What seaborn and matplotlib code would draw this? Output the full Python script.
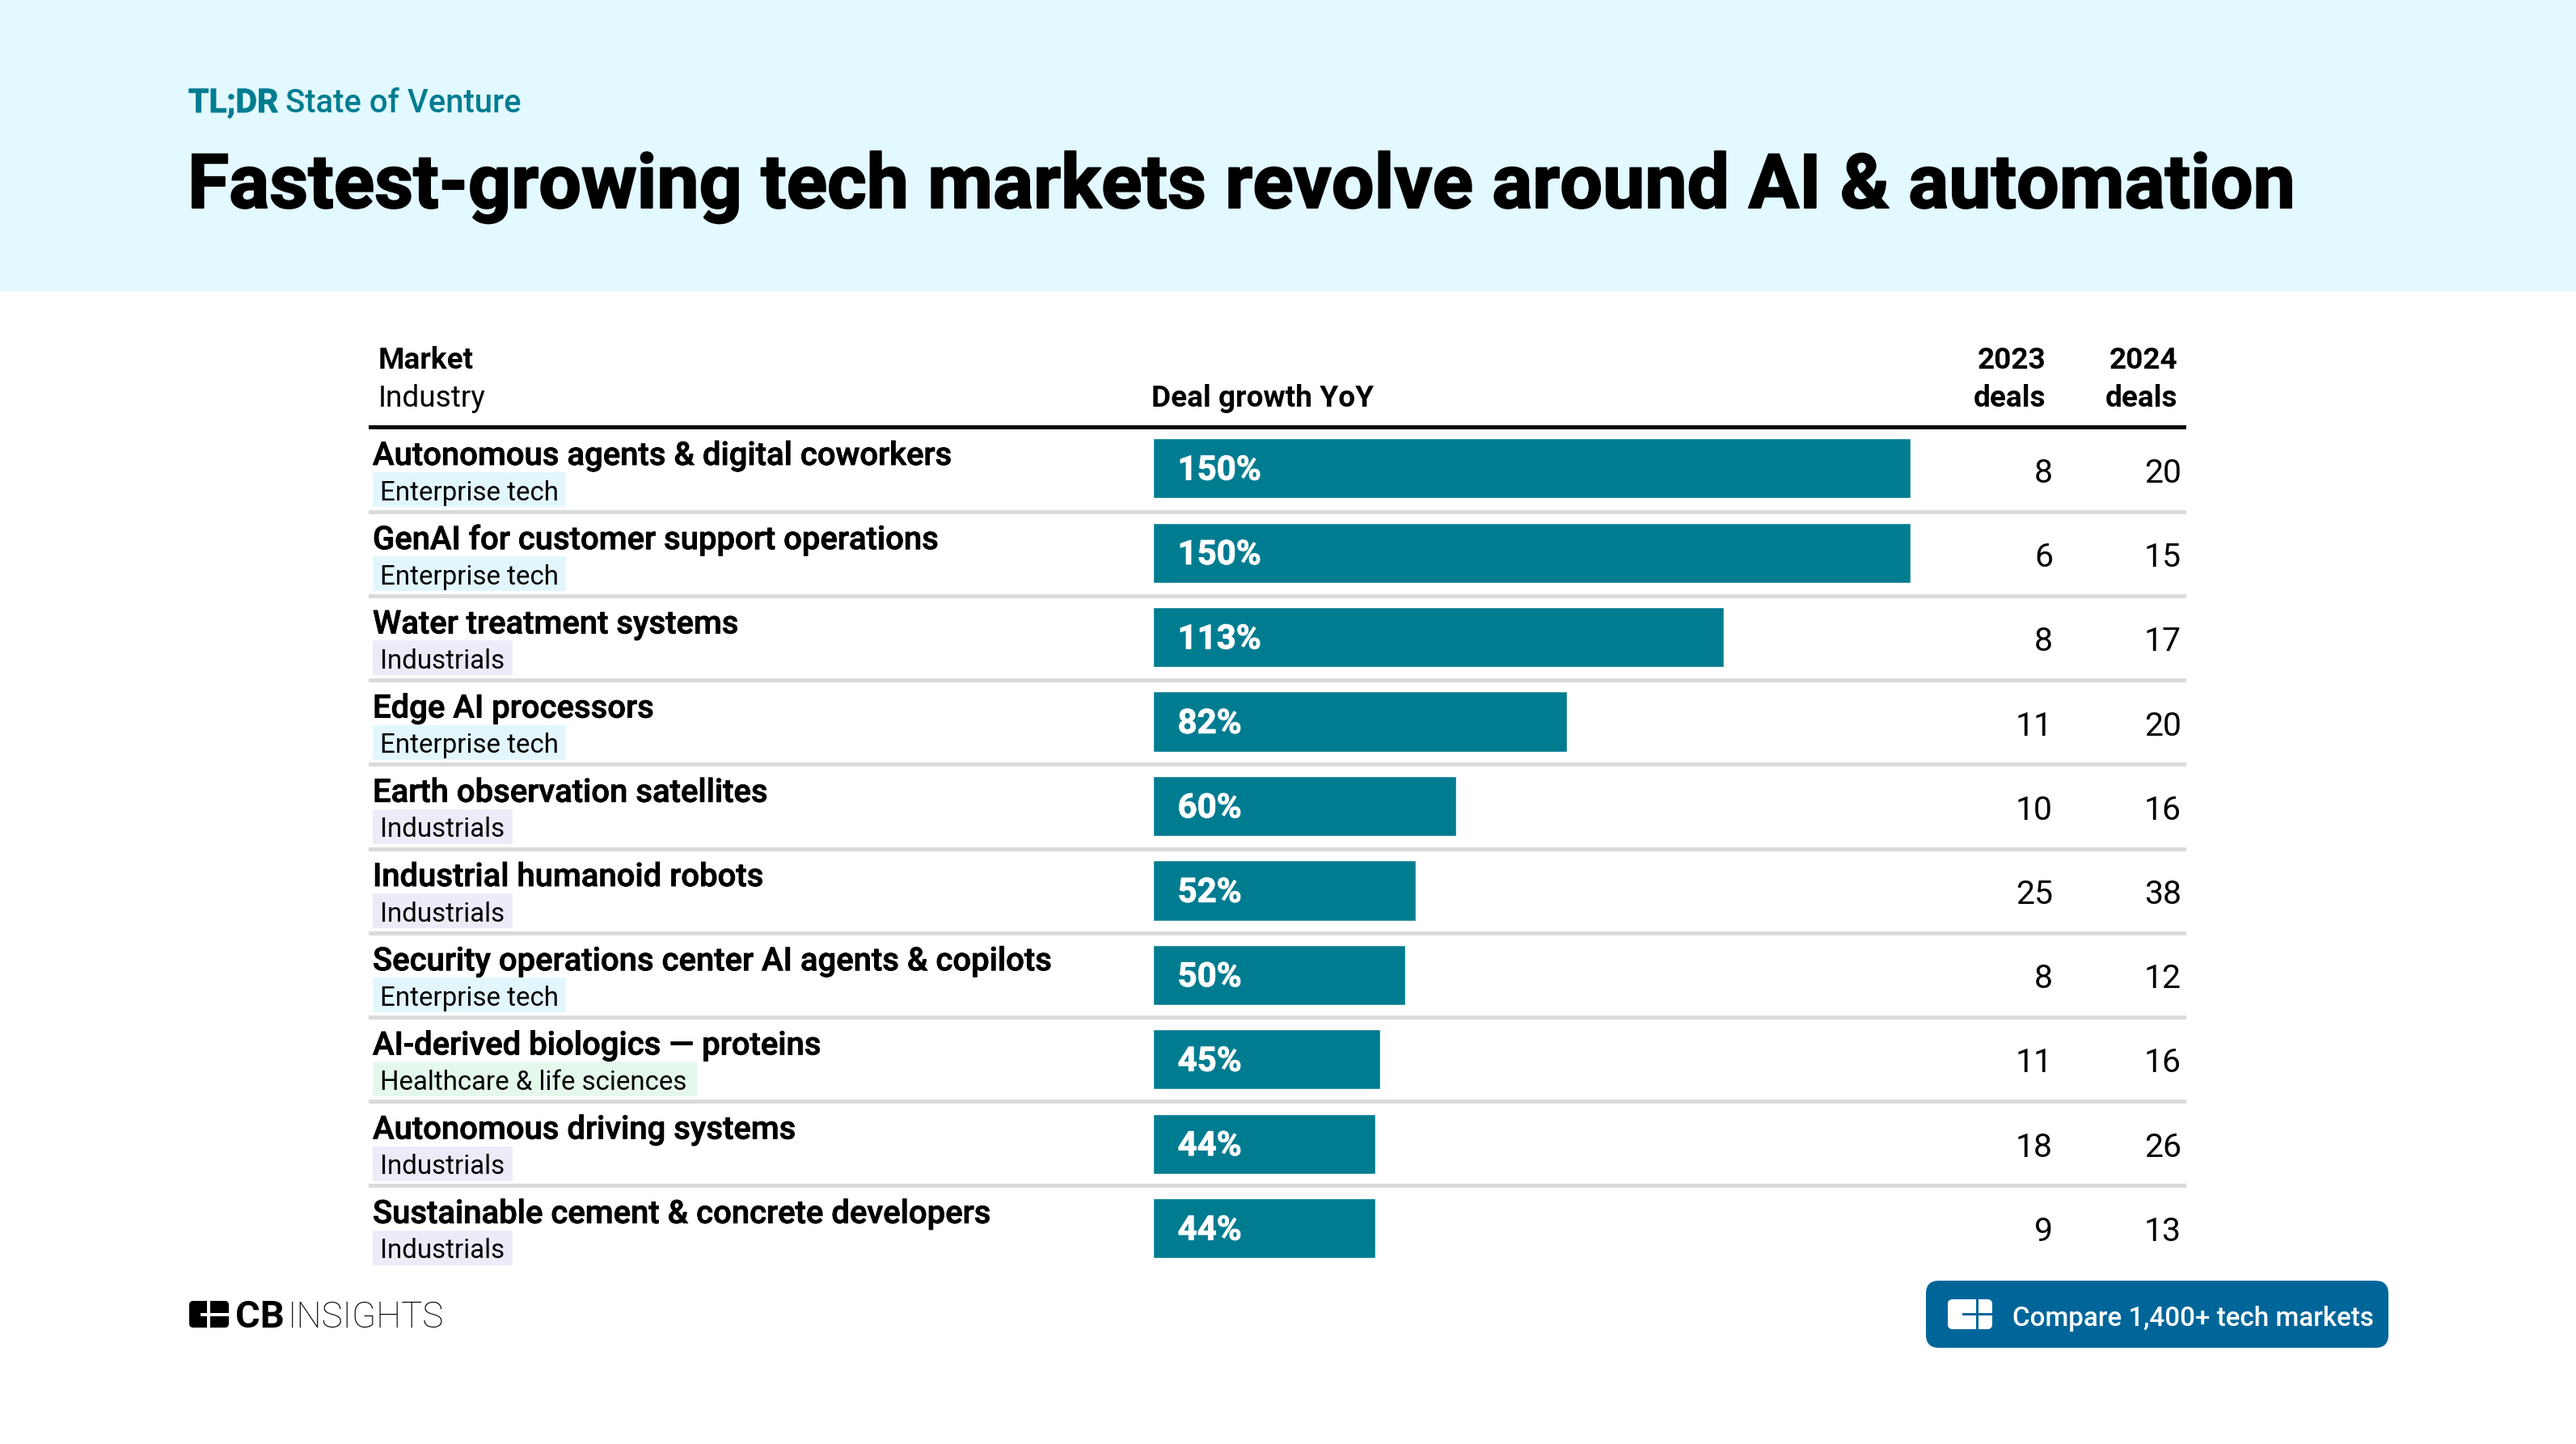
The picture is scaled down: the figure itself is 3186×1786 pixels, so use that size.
import seaborn as sns
import matplotlib
matplotlib.use("Agg")
import matplotlib.pyplot as plt
from matplotlib.patches import Rectangle, FancyBboxPatch
from matplotlib import patheffects
import pandas as pd

# data
markets = ["Autonomous agents & digital coworkers", "GenAI for customer support operations",
           "Water treatment systems", "Edge AI processors", "Earth observation satellites",
           "Industrial humanoid robots", "Security operations center AI agents & copilots",
           "AI-derived biologics — proteins", "Autonomous driving systems",
           "Sustainable cement & concrete developers"]
industries = ["Enterprise tech", "Enterprise tech", "Industrials", "Enterprise tech", "Industrials",
              "Industrials", "Enterprise tech", "Healthcare & life sciences", "Industrials", "Industrials"]
growth = [150, 150, 113, 82, 60, 52, 50, 45, 44, 44]
deals_2023 = [8, 6, 8, 11, 10, 25, 8, 11, 18, 9]
deals_2024 = [20, 15, 17, 20, 16, 38, 12, 16, 26, 13]

tag_colors = {"Enterprise tech": "#E2F7FD", "Industrials": "#ECECF9", "Healthcare & life sciences": "#E4F9EC"}
tag_widths = {"Enterprise tech": 239, "Industrials": 173, "Healthcare & life sciences": 401}

W, H = 3186, 1786
TEAL = "#007C91"
BLUE = "#00669A"
ROW = 104.2
TOP = 527

sns.set_theme(style="white")
plt.rcParams["font.family"] = ["Roboto", "DejaVu Sans"]

fig = plt.figure(figsize=(W / 100, H / 100), dpi=100, facecolor="white")

# full figure layer in pixel coordinates for the table furniture
bg = fig.add_axes([0, 0, 1, 1])
bg.set_xlim(0, W)
bg.set_ylim(H, 0)
bg.axis("off")


def label(x, y, s, size, weight="normal", color="black", ha="left", heavy=0):
    t = bg.text(x, y, s, fontsize=size * 0.72, fontweight=weight, color=color, ha=ha, va="baseline")
    if heavy:
        t.set_path_effects([patheffects.withStroke(linewidth=heavy, foreground=color)])
    return t


# header band
bg.add_patch(Rectangle((0, 0), W, 360, color="#E2F9FF", lw=0))
label(233, 139, "TL;DR", 41, "bold", TEAL, heavy=0.6)
label(353, 139, "State of Venture", 40, "medium", TEAL)
label(232, 257, "Fastest-growing tech markets revolve around AI & automation", 93.3, "bold", heavy=1.4)

# column headers
label(468, 456, "Market", 37, "bold")
label(468, 503, "Industry", 37)
label(1424, 503, "Deal growth YoY", 37, "bold")
label(2530, 456, "2023", 37, "bold", ha="right")
label(2530, 503, "deals", 37, "bold", ha="right")
label(2693, 456, "2024", 37, "bold", ha="right")
label(2693, 503, "deals", 37, "bold", ha="right")

bg.add_patch(Rectangle((456, 525.5), 2704 - 456, 5, color="black", lw=0))

# rows
for i, (m, ind) in enumerate(zip(markets, industries)):
    y0 = TOP + i * ROW
    if i > 0:
        bg.add_patch(Rectangle((456, y0 - 0.5), 2704 - 456, 5, color="#D9DADA", lw=0))
    label(461, y0 + 48, m, 40, "medium", heavy=0.6)
    bg.add_patch(Rectangle((461, y0 + 57), tag_widths[ind], 43, color=tag_colors[ind], lw=0))
    label(470, y0 + 91.5, ind, 33)
    label(2539, y0 + 70, str(deals_2023[i]), 41, ha="right")
    label(2698, y0 + 70, str(deals_2024[i]), 41, ha="right")

# bars, x scale 0-150% spans 1426-2363 px
df = pd.DataFrame({"market": markets, "growth": growth})
ax = fig.add_axes([1426 / W, 1 - (TOP + 10 * 104.45) / H, (2363 - 1426) / W, 10 * 104.45 / H])
ax.patch.set_alpha(0)
sns.barplot(data=df, x="growth", y="market", color=TEAL, saturation=1, width=0.71, ax=ax, orient="h")
ax.set_xlim(0, 150)
ax.set_ylim(9.5, -0.5)
ax.axis("off")
for i, v in enumerate(growth):
    t = ax.annotate(f"{v}%", (0, i), xytext=(22, -2), textcoords="offset points", color="white",
                    fontsize=42 * 0.72, fontweight="bold", va="center")
    t.set_path_effects([patheffects.withStroke(linewidth=0.6, foreground="white")])

# CB Insights logo
bg.add_patch(FancyBboxPatch((234, 1609), 49, 33, boxstyle="round,pad=0,rounding_size=5", lw=0, fc="black"))
bg.add_patch(Rectangle((256, 1606), 4, 39, color="white", lw=0))
bg.add_patch(Rectangle((248, 1624), 38, 4, color="white", lw=0))
label(291, 1642, "CB", 47, "bold")
label(356, 1642, "INSIGHTS", 44, "light")

# call to action button
bg.add_patch(FancyBboxPatch((2382, 1584), 572, 83, boxstyle="round,pad=0,rounding_size=16", lw=0, fc=BLUE))
bg.add_patch(FancyBboxPatch((2409, 1607), 55, 37, boxstyle="round,pad=0,rounding_size=6", lw=0, fc="white"))
bg.add_patch(Rectangle((2444, 1604), 3, 43, color=BLUE, lw=0))
bg.add_patch(Rectangle((2427, 1624), 40, 3, color=BLUE, lw=0))
label(2489, 1640, "Compare 1,400+ tech markets", 33.2, "medium", "white")

fig.savefig("out.png", dpi=100)
